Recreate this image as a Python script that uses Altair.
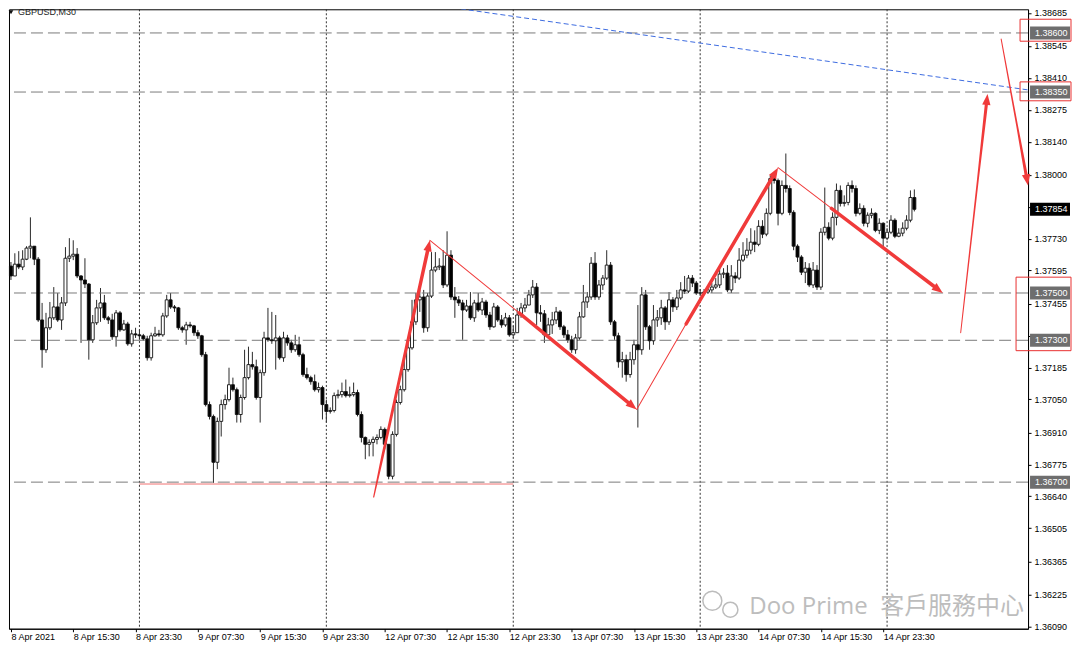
import json
import math
import altair as alt
import pandas as pd

# ---------------- data (GBPUSD M30, bar 0 = 8 Apr 2021 07:30) ----------------
first_open = 1.37614
close = [
    1.37572, 1.37622, 1.37610, 1.37643, 1.37690, 1.37698, 1.37643, 1.37386, 1.37260, 1.37353,
    1.37395, 1.37441, 1.37386, 1.37458, 1.37647, 1.37656, 1.37664, 1.37572, 1.37555, 1.37538,
    1.37302, 1.37374, 1.37437, 1.37458, 1.37395, 1.37386, 1.37315, 1.37416, 1.37344, 1.37369,
    1.37285, 1.37327, 1.37323, 1.37319, 1.37306, 1.37226, 1.37319, 1.37327, 1.37323, 1.37403,
    1.37471, 1.37441, 1.37437, 1.37353, 1.37344, 1.37365, 1.37361, 1.37332, 1.37319, 1.37239,
    1.37028, 1.36978, 1.36784, 1.36957, 1.37028, 1.37049, 1.37112, 1.37091, 1.36986, 1.37058,
    1.37142, 1.37197, 1.37188, 1.37058, 1.37163, 1.37310, 1.37302, 1.37298, 1.37310, 1.37226,
    1.37310, 1.37289, 1.37260, 1.37281, 1.37239, 1.37155, 1.37142, 1.37125, 1.37091, 1.37100,
    1.37028, 1.36999, 1.37003, 1.37066, 1.37070, 1.37083, 1.37066, 1.37070, 1.37079, 1.36986,
    1.36889, 1.36860, 1.36868, 1.36881, 1.36889, 1.36923, 1.36860, 1.36725, 1.36902, 1.37037,
    1.37091, 1.37176, 1.37268, 1.37378, 1.37471, 1.37483, 1.37353, 1.37487, 1.37597, 1.37610,
    1.37614, 1.37534, 1.37660, 1.37483, 1.37471, 1.37458, 1.37428, 1.37445, 1.37395, 1.37458,
    1.37428, 1.37462, 1.37407, 1.37357, 1.37441, 1.37386, 1.37365, 1.37395, 1.37323, 1.37332,
    1.37407, 1.37437, 1.37449, 1.37492, 1.37525, 1.37416, 1.37412, 1.37323, 1.37365, 1.37386,
    1.37420, 1.37357, 1.37323, 1.37302, 1.37260, 1.37310, 1.37399, 1.37462, 1.37483, 1.37626,
    1.37483, 1.37534, 1.37563, 1.37618, 1.37378, 1.37319, 1.37209, 1.37218, 1.37155, 1.37218,
    1.37281, 1.37260, 1.37492, 1.37357, 1.37298, 1.37386, 1.37395, 1.37437, 1.37378, 1.37471,
    1.37441, 1.37479, 1.37513, 1.37508, 1.37563, 1.37542, 1.37500, 1.37500, 1.37504, 1.37513,
    1.37525, 1.37534, 1.37580, 1.37584, 1.37513, 1.37572, 1.37563, 1.37639, 1.37660, 1.37681,
    1.37715, 1.37706, 1.37782, 1.37749, 1.37837, 1.37984, 1.37976, 1.37837, 1.37955, 1.37942,
    1.37841, 1.37698, 1.37652, 1.37588, 1.37605, 1.37534, 1.37597, 1.37525, 1.37757, 1.37778,
    1.37732, 1.37820, 1.37934, 1.37879, 1.37883, 1.37955, 1.37942, 1.37837, 1.37858, 1.37795,
    1.37829, 1.37837, 1.37765, 1.37795, 1.37732, 1.37757, 1.37808, 1.37740, 1.37753, 1.37774,
    1.37808, 1.37904, 1.37854,
]
high = [
    1.37631, 1.37668, 1.37677, 1.37681, 1.37698, 1.37820, 1.37681, 1.37652, 1.37458, 1.37416,
    1.37462, 1.37525, 1.37500, 1.37483, 1.37694, 1.37732, 1.37723, 1.37690, 1.37576, 1.37647,
    1.37542, 1.37407, 1.37471, 1.37521, 1.37492, 1.37403, 1.37412, 1.37428, 1.37424, 1.37386,
    1.37378, 1.37344, 1.37353, 1.37344, 1.37327, 1.37319, 1.37332, 1.37357, 1.37344, 1.37416,
    1.37492, 1.37500, 1.37449, 1.37441, 1.37361, 1.37378, 1.37378, 1.37365, 1.37344, 1.37323,
    1.37251, 1.37041, 1.36986, 1.36973, 1.37049, 1.37070, 1.37184, 1.37142, 1.37100, 1.37070,
    1.37260, 1.37273, 1.37251, 1.37218, 1.37176, 1.37336, 1.37437, 1.37420, 1.37407, 1.37319,
    1.37336, 1.37323, 1.37302, 1.37323, 1.37315, 1.37247, 1.37184, 1.37150, 1.37155, 1.37121,
    1.37108, 1.37049, 1.37016, 1.37079, 1.37091, 1.37121, 1.37134, 1.37104, 1.37121, 1.37091,
    1.36999, 1.36893, 1.36881, 1.36893, 1.36902, 1.36936, 1.36931, 1.36860, 1.36915, 1.37049,
    1.37108, 1.37218, 1.37302, 1.37471, 1.37500, 1.37513, 1.37513, 1.37500, 1.37673, 1.37673,
    1.37647, 1.37681, 1.37761, 1.37681, 1.37525, 1.37487, 1.37471, 1.37471, 1.37504, 1.37471,
    1.37500, 1.37479, 1.37471, 1.37420, 1.37458, 1.37449, 1.37407, 1.37416, 1.37407, 1.37361,
    1.37437, 1.37458, 1.37479, 1.37513, 1.37555, 1.37542, 1.37449, 1.37428, 1.37395, 1.37420,
    1.37441, 1.37428, 1.37365, 1.37344, 1.37319, 1.37327, 1.37420, 1.37534, 1.37504, 1.37652,
    1.37673, 1.37555, 1.37576, 1.37681, 1.37631, 1.37386, 1.37332, 1.37251, 1.37239, 1.37251,
    1.37302, 1.37449, 1.37525, 1.37513, 1.37365, 1.37449, 1.37428, 1.37471, 1.37445, 1.37504,
    1.37483, 1.37513, 1.37546, 1.37572, 1.37576, 1.37576, 1.37551, 1.37517, 1.37517, 1.37529,
    1.37542, 1.37563, 1.37618, 1.37605, 1.37618, 1.37618, 1.37588, 1.37690, 1.37715, 1.37732,
    1.37774, 1.37765, 1.37808, 1.37808, 1.37858, 1.37997, 1.37997, 1.37984, 1.37976, 1.38090,
    1.37955, 1.37850, 1.37706, 1.37660, 1.37631, 1.37626, 1.37631, 1.37618, 1.37774, 1.37946,
    1.37799, 1.37841, 1.37963, 1.37955, 1.37913, 1.37968, 1.37976, 1.37955, 1.37879, 1.37871,
    1.37841, 1.37858, 1.37841, 1.37816, 1.37799, 1.37774, 1.37829, 1.37816, 1.37774, 1.37799,
    1.37829, 1.37934, 1.37938,
]
low = [
    1.37555, 1.37572, 1.37601, 1.37597, 1.37639, 1.37647, 1.37618, 1.37378, 1.37184, 1.37247,
    1.37344, 1.37386, 1.37378, 1.37344, 1.37445, 1.37631, 1.37639, 1.37563, 1.37289, 1.37521,
    1.37218, 1.37289, 1.37365, 1.37378, 1.37386, 1.37369, 1.37302, 1.37273, 1.37336, 1.37340,
    1.37277, 1.37273, 1.37310, 1.37302, 1.37298, 1.37214, 1.37214, 1.37315, 1.37315, 1.37315,
    1.37395, 1.37433, 1.37420, 1.37344, 1.37332, 1.37281, 1.37353, 1.37319, 1.37306, 1.37230,
    1.37020, 1.36965, 1.36697, 1.36755, 1.36893, 1.37007, 1.37041, 1.37083, 1.36952, 1.36952,
    1.37049, 1.37134, 1.37176, 1.37049, 1.36952, 1.37150, 1.37294, 1.37285, 1.37176, 1.37218,
    1.37209, 1.37277, 1.37247, 1.37251, 1.37230, 1.37146, 1.37134, 1.37112, 1.37083, 1.37079,
    1.36965, 1.36952, 1.36990, 1.36995, 1.37054, 1.37058, 1.37058, 1.37058, 1.37062, 1.36978,
    1.36868, 1.36797, 1.36809, 1.36809, 1.36860, 1.36881, 1.36839, 1.36712, 1.36712, 1.36893,
    1.37028, 1.37083, 1.37167, 1.37260, 1.37365, 1.37420, 1.37332, 1.37336, 1.37479, 1.37588,
    1.37597, 1.37521, 1.37525, 1.37471, 1.37395, 1.37445, 1.37302, 1.37420, 1.37386, 1.37378,
    1.37420, 1.37407, 1.37395, 1.37344, 1.37353, 1.37378, 1.37353, 1.37357, 1.37315, 1.37310,
    1.37332, 1.37395, 1.37420, 1.37449, 1.37479, 1.37365, 1.37378, 1.37289, 1.37310, 1.37327,
    1.37369, 1.37344, 1.37310, 1.37289, 1.37247, 1.37243, 1.37302, 1.37395, 1.37437, 1.37471,
    1.37471, 1.37471, 1.37513, 1.37555, 1.37365, 1.37302, 1.37184, 1.37142, 1.37125, 1.37142,
    1.37197, 1.36931, 1.37239, 1.37344, 1.37260, 1.37281, 1.37357, 1.37365, 1.37344, 1.37365,
    1.37420, 1.37428, 1.37471, 1.37496, 1.37500, 1.37525, 1.37492, 1.37487, 1.37492, 1.37496,
    1.37500, 1.37517, 1.37521, 1.37563, 1.37504, 1.37500, 1.37542, 1.37555, 1.37631, 1.37647,
    1.37664, 1.37673, 1.37698, 1.37732, 1.37740, 1.37829, 1.37963, 1.37786, 1.37829, 1.37925,
    1.37829, 1.37681, 1.37631, 1.37576, 1.37542, 1.37525, 1.37521, 1.37513, 1.37513, 1.37744,
    1.37723, 1.37723, 1.37786, 1.37866, 1.37866, 1.37871, 1.37925, 1.37824, 1.37829, 1.37782,
    1.37778, 1.37816, 1.37757, 1.37749, 1.37694, 1.37723, 1.37749, 1.37732, 1.37736, 1.37740,
    1.37765, 1.37799, 1.37845,
]

x_label_bars = [0, 16, 32, 48, 64, 80, 96, 112, 128, 144, 160, 176, 192, 208, 224]
x_labels = ["8 Apr 2021", "8 Apr 15:30", "8 Apr 23:30", "9 Apr 07:30", "9 Apr 15:30",
            "9 Apr 23:30", "12 Apr 07:30", "12 Apr 15:30", "12 Apr 23:30", "13 Apr 07:30",
            "13 Apr 15:30", "13 Apr 23:30", "14 Apr 07:30", "14 Apr 15:30", "14 Apr 23:30"]
y_ticks = [1.38685, 1.38545, 1.38410, 1.38275, 1.38140, 1.38000, 1.37865, 1.37730, 1.37595,
           1.37455, 1.37320, 1.37185, 1.37050, 1.36910, 1.36775, 1.36640, 1.36505, 1.36365,
           1.36225, 1.36090]
# tick labels hidden behind the price boxes in the reference
y_hidden = [1.37865, 1.37320]
day_start_bars = [33, 81, 129, 177, 225]

level_prices = [1.38600, 1.38350, 1.37500, 1.37300, 1.36700]
level_labels = ["1.38600", "1.38350", "1.37500", "1.37300", "1.36700"]
current_price = 1.37854
current_label = "1.37854"

support_bar = [33]
support_bar2 = [129]
support_price = [1.36692]

trend_bar = [107.4]
trend_bar2 = [261.2]
trend_price = [1.38721]
trend_price2 = [1.38359]

arrow_id = [1, 1, 1, 2, 2, 2, 2, 3, 3, 3, 3, 4, 4, 4, 4, 5, 5, 5, 6, 6, 6]
arrow_bar = [93.15, 95.4, 107.6, 107.6, 130.2, 130.5, 160.7, 160.7, 173.1, 173.4, 197.0,
             197.0, 210.4, 210.7, 239.3, 243.9, 248.3, 250.8, 254.3, 258.4, 261.2]
arrow_price = [1.36637, 1.36807, 1.37723, 1.37723, 1.37420, 1.37416, 1.37007, 1.37007,
               1.37361, 1.37369, 1.38030, 1.38030, 1.37862, 1.37858, 1.37500, 1.37332,
               1.37976, 1.38342, 1.38574, 1.38207, 1.37955]
arrow_width = [1.2, 2.6, 3.6, 1.0, 1.0, 3.4, 3.6, 1.0, 1.0, 3.4, 3.6, 1.0, 1.0, 3.4, 3.6,
               1.0, 1.8, 3.2, 1.0, 1.8, 3.2]

box_top = [1.38658, 1.38393]
box_bottom = [1.38565, 1.38313]
box3_top = [1.37567]
box3_bottom = [1.37256]

# ---------------- layout ----------------
W, H = 1020, 620
X_DOM = [-0.5, 261.2]
Y_DOM = [1.36080, 1.38700]
px_bar = W / (X_DOM[1] - X_DOM[0])
px_price = H / (Y_DOM[1] - Y_DOM[0])
RED = "#f03a3a"

xs = alt.Scale(domain=X_DOM, nice=False, zero=False, padding=0)
ys = alt.Scale(domain=Y_DOM, nice=False, zero=False, padding=0)

n = min(len(close), len(high), len(low))
opens = [first_open] + close[:n - 1]
rows = []
for i in range(n):
    o, c = opens[i], close[i]
    rows.append(dict(i=i, o=o, c=c, h=max(high[i], o, c), l=min(low[i], o, c),
                     dir="up" if c >= o else "down"))
candles = pd.DataFrame(rows)

label_expr = json.dumps(x_labels) + "[round(datum.value / 16)]"
hide_cond = " || ".join("abs(datum.value - %.5f) < 0.000001" % v for v in y_hidden)
y_label_expr = "(%s) ? '' : datum.label" % hide_cond

x_axis = alt.Axis(values=x_label_bars, labelExpr=label_expr, labelAlign="left",
                  labelBaseline="top", labelFont="Liberation Sans", labelFontSize=9,
                  labelColor="#000000", labelPadding=1, tickSize=3, tickColor="#000000",
                  domainColor="#000000", grid=False, title=None, labelOverlap=False,
                  labelFlush=False)
y_axis = alt.Axis(orient="right", values=y_ticks, format=".5f", labelExpr=y_label_expr,
                  labelFont="Liberation Sans", labelFontSize=9, labelColor="#000000",
                  labelPadding=3, tickSize=3, tickColor="#000000", domainColor="#000000",
                  grid=False, title=None, labelOverlap=False, labelFlush=False)


def X(field):
    return alt.X(field, scale=xs, axis=x_axis)


def Y(field):
    return alt.Y(field, scale=ys, axis=y_axis)


# horizontal dashed levels
levels_df = pd.DataFrame({"price": level_prices})
levels = alt.Chart(levels_df).mark_rule(color="#7a7a7a", strokeDash=[12, 5], strokeWidth=1).encode(
    y=Y("price:Q"))

# dotted day separators
grid_df = pd.DataFrame({"bar": day_start_bars})
grid = alt.Chart(grid_df).mark_rule(color="#333333", strokeDash=[2, 2], strokeWidth=1).encode(
    x=X("bar:Q"))

# red support line
sup_df = pd.DataFrame({"bar": support_bar, "b2": support_bar2, "price": support_price})
support = alt.Chart(sup_df).mark_rule(color="#f07070", strokeWidth=1).encode(
    x=X("bar:Q"), x2="b2:Q", y=Y("price:Q"))

# blue trend line
tr_df = pd.DataFrame({"bar": trend_bar, "b2": trend_bar2, "price": trend_price, "p2": trend_price2})
trend = alt.Chart(tr_df).mark_rule(color="#3d6be0", strokeWidth=1, strokeDash=[5, 3], clip=True).encode(
    x=X("bar:Q"), x2="b2:Q", y=Y("price:Q"), y2="p2:Q")

# candles
wicks = alt.Chart(candles).mark_rule(color="#2a2a2a", strokeWidth=1).encode(
    x=X("i:Q"), y=Y("l:Q"), y2="h:Q")
bodies = alt.Chart(candles).mark_bar(size=3, stroke="#111111", strokeWidth=0.9).encode(
    x=X("i:Q"), y=Y("o:Q"), y2="c:Q",
    fill=alt.Fill("dir:N", scale=alt.Scale(domain=["up", "down"], range=["#ffffff", "#000000"]),
                  legend=None))

# arrows
arr = pd.DataFrame({"aid": arrow_id, "bar": arrow_bar, "price": arrow_price, "w": arrow_width})
trail_rows, head_rows = [], []
k = 0
for aid in sorted(set(arrow_id)):
    g = arr[arr["aid"] == aid].reset_index(drop=True)
    m = len(g)
    b0, p0 = g.loc[m - 2, "bar"], g.loc[m - 2, "price"]
    b1, p1 = g.loc[m - 1, "bar"], g.loc[m - 1, "price"]
    dx = (b1 - b0) * px_bar
    dy = -(p1 - p0) * px_price
    L = math.hypot(dx, dy)
    ang = math.degrees(math.atan2(dx, -dy)) % 360
    head_rows.append(dict(bar=b1, price=p1, ang=ang))
    back = min(7.0 / L, 0.9)
    for j in range(m):
        b, p, w = g.loc[j, "bar"], g.loc[j, "price"], g.loc[j, "w"]
        if j == m - 1:
            b = b1 - back * (b1 - b0)
            p = p1 - back * (p1 - p0)
        trail_rows.append(dict(aid=aid, k=k, bar=b, price=p, w=w))
        k += 1
trail_df = pd.DataFrame(trail_rows)
head_df = pd.DataFrame(head_rows)

trails = alt.Chart(trail_df).mark_trail(color=RED).encode(
    x=X("bar:Q"), y=Y("price:Q"),
    size=alt.Size("w:Q", scale=None, legend=None),
    detail="aid:N",
    order="k:Q")
heads = alt.Chart(head_df).mark_point(shape="M0,0L-0.38,1L0.38,1Z", filled=True, size=484,
                                      color=RED, opacity=1).encode(
    x=X("bar:Q"), y=Y("price:Q"),
    angle=alt.Angle("ang:Q", scale=None))

# price labels on the right axis
half = 6.5 / px_price
lab_df = pd.DataFrame({
    "price": level_prices + [current_price],
    "label": level_labels + [current_label],
    "bg": ["#6e6e6e"] * len(level_prices) + ["#000000"],
})
lab_df["top"] = lab_df["price"] + half
lab_df["bot"] = lab_df["price"] - half
lab_boxes = alt.Chart(lab_df).mark_rect().encode(
    x=alt.value(W + 2), x2=alt.value(W + 42),
    y=Y("top:Q"), y2="bot:Q",
    fill=alt.Fill("bg:N", scale=None))
lab_text = alt.Chart(lab_df).mark_text(align="left", baseline="middle", font="Liberation Sans",
                                       fontSize=9, color="#ffffff").encode(
    x=alt.value(W + 7), y=Y("price:Q"), text="label:N")

# red highlight boxes
rb_df = pd.DataFrame({"top": box_top, "bot": box_bottom})
red_boxes = alt.Chart(rb_df).mark_rect(fillOpacity=0, stroke="#e83030", strokeWidth=1).encode(
    x=alt.value(W - 8), x2=alt.value(W + 43), y=Y("top:Q"), y2="bot:Q")
rb3_df = pd.DataFrame({"top": box3_top, "bot": box3_bottom})
red_box3 = alt.Chart(rb3_df).mark_rect(fillOpacity=0, stroke="#e83030", strokeWidth=1).encode(
    x=alt.value(W - 12), x2=alt.value(W + 43), y=Y("top:Q"), y2="bot:Q")

# symbol title
one = pd.DataFrame({"t": ["GBPUSD,M30"]})
title_tri = alt.Chart(one).mark_point(shape="triangle-down", filled=True, size=22,
                                      color="#111111", opacity=1).encode(
    x=alt.value(2), y=alt.value(3))
title_txt = alt.Chart(one).mark_text(align="left", baseline="middle", font="Liberation Sans",
                                     fontSize=9, color="#1c1c1c").encode(
    x=alt.value(9), y=alt.value(3), text="t:N")

# watermark
wm = pd.DataFrame({"a": ["Doo Prime"], "b": ["客戶服務中心"]})
wm_icon1 = alt.Chart(wm).mark_point(shape="circle", filled=False, size=360, color="#bcbcbc",
                                    strokeWidth=1.5, opacity=1).encode(
    x=alt.value(704), y=alt.value(592))
wm_icon2 = alt.Chart(wm).mark_point(shape="circle", filled=False, size=230, color="#bcbcbc",
                                    strokeWidth=1.5, opacity=1).encode(
    x=alt.value(722), y=alt.value(601))
wm_t1 = alt.Chart(wm).mark_text(align="left", baseline="middle", font="Open Sans", fontSize=24,
                                color="#bdbdbd").encode(
    x=alt.value(741), y=alt.value(598), text="a:N")
wm_t2 = alt.Chart(wm).mark_text(align="left", baseline="middle", font="Noto Sans CJK TC",
                                fontSize=24, color="#bdbdbd").encode(
    x=alt.value(872), y=alt.value(598), text="b:N")

chart = alt.layer(
    wicks, grid, levels, support, trend, bodies, trails, heads,
    lab_boxes, lab_text, red_boxes, red_box3, title_tri, title_txt,
    wm_icon1, wm_icon2, wm_t1, wm_t2,
).properties(width=W, height=H, padding=0, background="#ffffff").configure_view(
    stroke="#000000", strokeWidth=1)

chart.save("out.html", embed_options={"renderer": "svg", "actions": False})
